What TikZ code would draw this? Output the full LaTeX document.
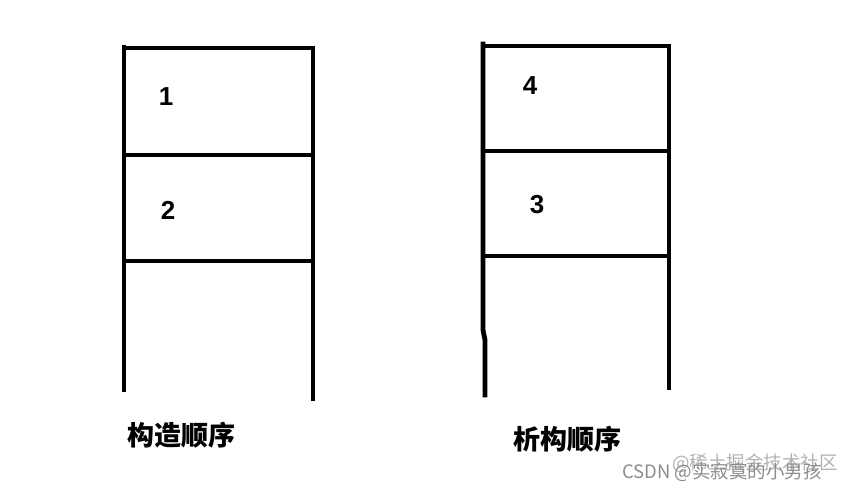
\documentclass[tikz,border=0pt]{standalone}
\usepackage{fontspec}
\setmainfont{Liberation Sans}
\newfontfamily\cjk{Noto Sans CJK SC}
\begin{document}
\begin{tikzpicture}[x=1pt,y=-1pt,
  bar/.style={line width=4.8pt,black,line cap=rect},
  num/.style={font=\fontsize{26}{26}\selectfont\bfseries,inner sep=0pt},
  lbl/.style={font=\cjk\fontsize{27}{27}\selectfont\bfseries,inner sep=0pt},
  wm/.style={font=\cjk\fontsize{18.5}{18.5}\selectfont,inner sep=0pt,anchor=west}]
\useasboundingbox (0,0) rectangle (849,494);
% left stack
\coordinate (a1) at (124,47);
\coordinate (a2) at (124,390);
\coordinate (b1) at (313,48);
\coordinate (b2) at (313,399);
\draw[bar] (a1) -- (a2);
\draw[bar] (b1) -- (b2);
\draw[bar] (124,48) -- (313,48);
\draw[bar] (124,155) -- (313,155);
\draw[bar] (124,261) -- (313,261);
% right stack
\coordinate (c1) at (483,44);
\coordinate (c2) at (485,395);
\coordinate (d1) at (669,46);
\coordinate (d2) at (669,388);
\draw[bar,line join=round] (c1) -- (483,330) -- (485,340) -- (c2);
\draw[bar] (d1) -- (d2);
\draw[bar] (483,46) -- (669,46);
\draw[bar] (483,151) -- (669,151);
\draw[bar] (483,256) -- (669,256);
% numbers
\node[num] (n1) at (166,97) {1};
\node[num] (n2) at (168,210) {2};
\node[num] (n4) at (530,86) {4};
\node[num] (n3) at (537,205) {3};
% captions
\node[lbl] (l1) at (181,435) {构造顺序};
\node[lbl] (l2) at (567,439) {析构顺序};
% watermark
\node[wm,text=black!30] (w2) at (672,463) {@稀土掘金技术社区};
\node[wm,text=black!45] (w1) at (622,472) {CSDN @实寂寞的小男孩};
\end{tikzpicture}
\end{document}
